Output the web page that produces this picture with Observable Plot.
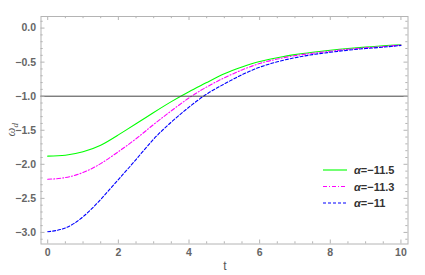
<!DOCTYPE html>
<html><head><meta charset="utf-8">
<script src="https://cdn.jsdelivr.net/npm/d3@7"></script>
<script src="https://cdn.jsdelivr.net/npm/@observablehq/plot@0.6"></script>
<style>body{margin:0;background:#fff}</style>
</head><body><div id="chart"></div>
<script>
const t = [0,0.5,1,1.5,2,2.5,3,3.5,4,4.5,5,5.5,6,6.5,7,7.5,8,8.5,9,9.5,10];
const wGreen = [-1.88,-1.866,-1.815,-1.72,-1.568,-1.405,-1.24,-1.08,-0.935,-0.80,-0.67,-0.57,-0.49,-0.435,-0.39,-0.355,-0.325,-0.30,-0.28,-0.26,-0.245];
const wMagenta = [-2.22,-2.195,-2.12,-1.99,-1.815,-1.625,-1.415,-1.215,-1.025,-0.865,-0.73,-0.615,-0.52,-0.455,-0.405,-0.37,-0.34,-0.31,-0.29,-0.27,-0.25];
const wBlue = [-2.99,-2.935,-2.77,-2.515,-2.225,-1.93,-1.63,-1.38,-1.16,-0.97,-0.82,-0.685,-0.575,-0.495,-0.435,-0.39,-0.355,-0.325,-0.30,-0.28,-0.255];
const seriesLabels = ["α=−11.5","α=−11.3","α=−11"];
const colors = ["#00ff00","#ff00ff","#0000ff"];
const dashes = [null,"4,2,1,2","3,2"];
const refLine = [-1];
const xTicks = [0,2,4,6,8,10];
const yTicks = [0,-0.5,-1,-1.5,-2,-2.5,-3];
const xMinor = d3.range(0,10.01,0.5);
const yMinor = d3.range(-31,2).map(i=>i/10);

const series = [wGreen,wMagenta,wBlue];
const rows = [];
series.forEach((s,k)=>s.forEach((v,i)=>rows.push({t:t[i],w:v,k})));

const W=425,H=275, mL=40.5, mR=17.5, mT=16, mB=31.5;
const ph = H-mT-mB, pw = W-mL-mR;
const frameC="#b4b4b4";
const major=4, minor=2.2;
const notMajor=(vals,maj)=>vals.filter(v=>!maj.some(u=>Math.abs(u-v)<1e-9));

const marks = [
  Plot.frame({stroke:frameC, strokeWidth:1}),
  ...series.map((s,k)=>Plot.line(rows.filter(r=>r.k===k),{x:"t",y:"w",stroke:colors[k],strokeWidth:1.1,strokeDasharray:dashes[k],curve:"natural"})),
  Plot.ruleY(refLine,{stroke:"#444",strokeWidth:1}),
  Plot.tickX(xTicks,{x:d=>d,stroke:frameC,insetTop:ph-major}),
  Plot.tickX(notMajor(xMinor,xTicks),{x:d=>d,stroke:frameC,insetTop:ph-minor}),
  Plot.tickX(xTicks,{x:d=>d,stroke:frameC,insetBottom:ph-major}),
  Plot.tickX(notMajor(xMinor,xTicks),{x:d=>d,stroke:frameC,insetBottom:ph-minor}),
  Plot.tickY(yTicks,{y:d=>d,stroke:frameC,insetRight:pw-major}),
  Plot.tickY(notMajor(yMinor,yTicks),{y:d=>d,stroke:frameC,insetRight:pw-minor}),
  Plot.tickY(yTicks,{y:d=>d,stroke:frameC,insetLeft:pw-major}),
  Plot.tickY(notMajor(yMinor,yTicks),{y:d=>d,stroke:frameC,insetLeft:pw-minor}),
  Plot.axisX(xTicks,{tickSize:0,tickPadding:5,fontSize:10.5,fontWeight:"bold",fill:"#666",label:null}),
  Plot.axisY(yTicks,{tickSize:0,tickPadding:5,fontSize:10.5,fontWeight:"bold",fill:"#666",label:null,tickFormat:d3.format(".1f")})
];

const chart = Plot.plot({
  width:W,height:H,marginLeft:mL,marginRight:mR,marginTop:mT,marginBottom:mB,
  style:{fontFamily:"'Liberation Sans', Arial, sans-serif",background:"#fff"},
  x:{domain:[-0.19,10.2]},
  y:{domain:[-3.17,0.17]},
  marks
});
document.getElementById("chart").appendChild(chart);

const svg = d3.select(chart);
svg.append("text").attr("x",mL+pw/2+1).attr("y",270).attr("text-anchor","middle")
  .attr("font-size",12).attr("fill","#555").attr("font-family","'Liberation Sans', Arial, sans-serif").text("t");
const yl = svg.append("text").attr("transform",`translate(15,${mT+ph/2}) rotate(-90)`).attr("text-anchor","middle")
  .attr("font-size",12.5).attr("fill","#555").attr("font-family","'Liberation Serif', serif");
yl.append("tspan").attr("font-style","italic").text("ω");
yl.append("tspan").attr("font-style","italic").attr("font-size",9).attr("dy",3).text("d");

const lx0=323, lx1=347, tx=354, ly=[170,186.5,203];
seriesLabels.forEach((lab,k)=>{
  svg.append("line").attr("x1",lx0).attr("x2",lx1).attr("y1",ly[k]).attr("y2",ly[k])
    .attr("stroke",colors[k]).attr("stroke-width",1.1).attr("stroke-dasharray",dashes[k]);
  const tt = svg.append("text").attr("x",tx).attr("y",ly[k]+4).attr("text-anchor","start").attr("font-size",11).attr("font-weight","bold")
    .attr("fill","#333").attr("font-family","'Liberation Sans', Arial, sans-serif");
  tt.append("tspan").attr("font-style","italic").text(lab.slice(0,1));
  tt.append("tspan").text(lab.slice(1));
});
</script></body></html>
